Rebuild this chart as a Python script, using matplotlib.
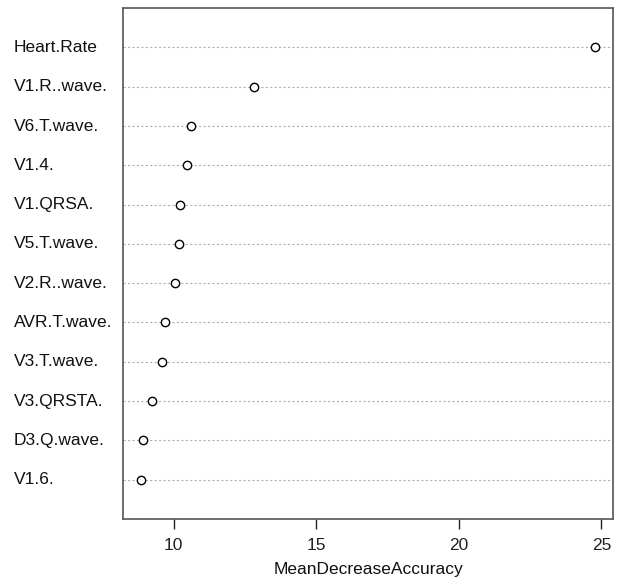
import matplotlib.pyplot as plt
import matplotlib.transforms as mtransforms

plt.rcParams['font.family'] = ['Liberation Sans', 'DejaVu Sans']

# variables from top to bottom
features = ['Heart.Rate', 'V1.R..wave.', 'V6.T.wave.', 'V1.4.', 'V1.QRSA.',
            'V5.T.wave.', 'V2.R..wave.', 'AVR.T.wave.', 'V3.T.wave.',
            'V3.QRSTA.', 'D3.Q.wave.', 'V1.6.']
importance = [24.77, 12.82, 10.62, 10.47, 10.23, 10.19, 10.04, 9.69, 9.60,
              9.25, 8.93, 8.86]
xticks = [10, 15, 20, 25]

n = len(features)
ypos = list(range(n, 0, -1))

fig = plt.figure(figsize=(6.18, 5.85), dpi=100)
ax = fig.add_axes([0.199, 0.113, 0.793, 0.873])

for y in ypos:
    ax.axhline(y, color='#b0b0b0', linestyle=(0, (2, 2)), linewidth=0.8, zorder=1)

ax.plot(importance, ypos, linestyle='none', marker='o', markersize=6,
        markerfacecolor='white', markeredgecolor='black', markeredgewidth=1.0, zorder=3)

lo, hi = min(importance), max(importance)
pad = (hi - lo) * 0.04
ax.set_xlim(lo - pad, hi + pad)
ax.set_ylim(0, n + 1)

ax.set_yticks([])
ax.set_xticks(xticks)
ax.set_xticklabels([str(t) for t in xticks], fontsize=12.5)
ax.tick_params(axis='x', direction='out', length=7, width=1, pad=7, colors='#222222')

for s in ax.spines.values():
    s.set_color('#555555')
    s.set_linewidth(1.2)

trans = mtransforms.blended_transform_factory(fig.transFigure, ax.transData)
for y, name in zip(ypos, features):
    ax.text(14 / 618, y, name, transform=trans, ha='left', va='center',
            fontsize=12.5, color='#111111')

ax.set_xlabel('MeanDecreaseAccuracy', fontsize=12.5, labelpad=6, color='#111111')

fig.savefig('out.png', dpi=100)
